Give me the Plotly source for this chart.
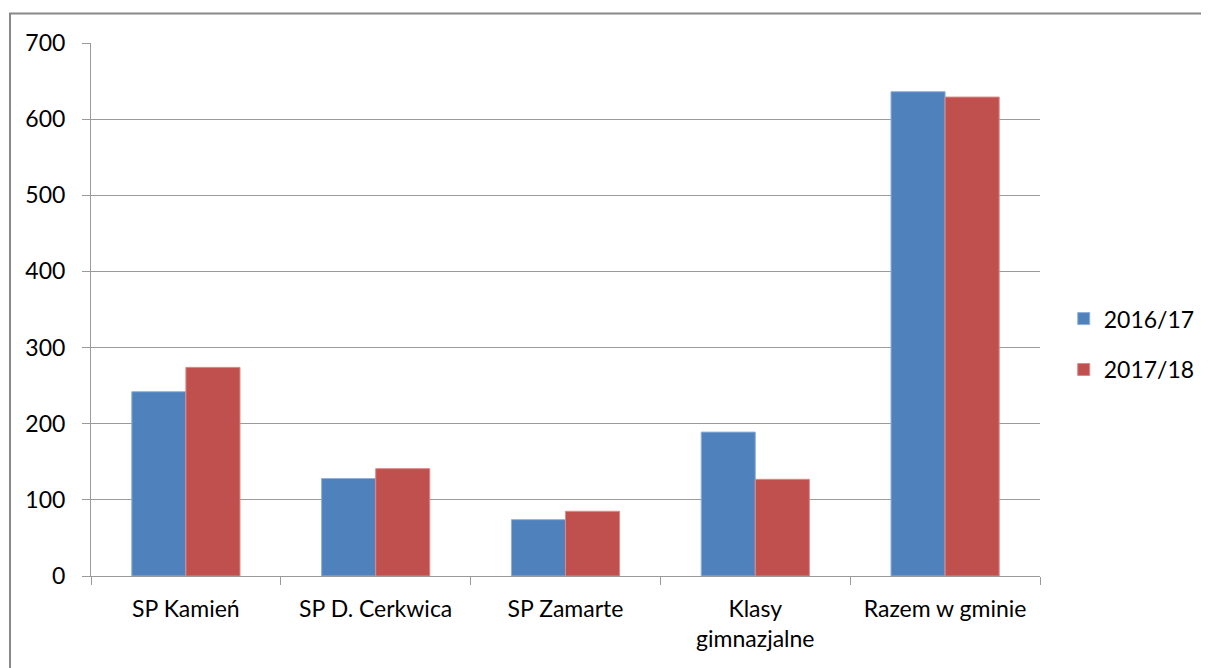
import plotly.graph_objects as go

categories = ["SP Kamień", "SP D. Cerkwica", "SP Zamarte", "Klasy<br>gimnazjalne", "Razem w gminie"]
series_names = ["2016/17", "2017/18"]
values_2016 = [242, 128, 74, 189, 636]
values_2017 = [274, 141, 85, 127, 629]
y_ticks = [0, 100, 200, 300, 400, 500, 600, 700]

FONT = "Lato, Carlito, 'Open Sans', sans-serif"
FS = 23

fig = go.Figure()
fig.add_trace(go.Bar(x=categories, y=values_2016, name=series_names[0], legendgroup="a",
                     marker=dict(color="#4F81BD", line=dict(color="#8FB0DA", width=1))))
fig.add_trace(go.Bar(x=categories, y=values_2017, name=series_names[1], legendgroup="b",
                     marker=dict(color="#C0504D", line=dict(color="#DC8A88", width=1))))

fig.update_layout(
    width=1209, height=668,
    margin=dict(l=83, r=177, t=35, b=100),
    paper_bgcolor="white", plot_bgcolor="white",
    barmode="group", bargap=0.43, bargroupgap=0,
    font=dict(family=FONT, size=FS, color="black"),
    showlegend=True,
    legend=dict(x=1.025, y=0.435, xanchor="left", yanchor="middle",
                font=dict(family=FONT, size=FS), itemwidth=30, tracegroupgap=18,
                traceorder="grouped", bgcolor="rgba(0,0,0,0)"),
    xaxis=dict(showline=True, linecolor="#9a9a9a", linewidth=1,
               ticks="outside", ticklen=8, tickcolor="#9a9a9a",
               tickson="boundaries", showgrid=False, ticklabelstandoff=12,
               tickfont=dict(family=FONT, size=FS)),
    yaxis=dict(range=[0, 700], tickvals=y_ticks, showline=True, linecolor="#9a9a9a",
               linewidth=1, ticks="outside", ticklen=8, tickcolor="#9a9a9a",
               showgrid=True, gridcolor="#9a9a9a", gridwidth=1, zeroline=False,
               tickfont=dict(family=FONT, size=FS), ticklabelstandoff=12),
    shapes=[dict(type="rect", xref="paper", yref="paper",
                 x0=(10 - 91) / 949, x1=(1215 - 91) / 949,
                 y0=(576 - 680) / 533, y1=(576 - 13.5) / 533,
                 line=dict(color="#888888", width=2), fillcolor="rgba(0,0,0,0)",
                 layer="below")],
)

fig.write_html("out.html")
